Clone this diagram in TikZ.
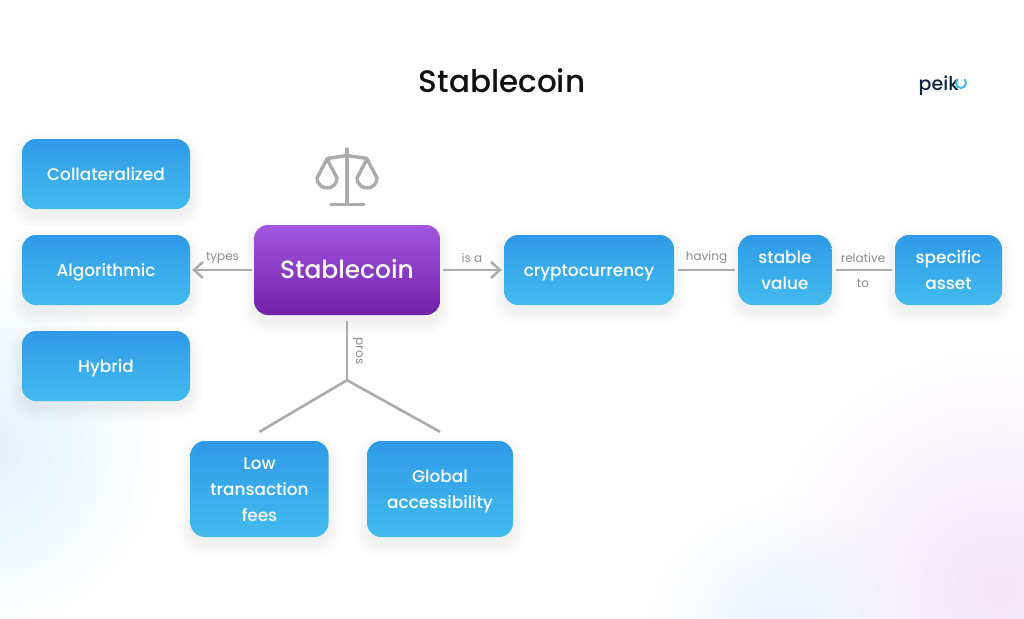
\documentclass[tikz,border=0pt]{standalone}
\usepackage{fontspec}
\setmainfont{Poppins}[UprightFont=* Medium,BoldFont=* SemiBold]
\newfontfamily\lblfont{Poppins}
\usetikzlibrary{arrows.meta,calc,fadings}
\definecolor{blueT}{HTML}{2F9AE8}
\definecolor{blueB}{HTML}{43BBEE}
\definecolor{purT}{HTML}{A356DF}
\definecolor{purB}{HTML}{7121A8}
\definecolor{conn}{HTML}{ABABAB}
\definecolor{lab}{HTML}{8C8C8C}
\definecolor{navy}{HTML}{12263F}
\definecolor{ink}{HTML}{111111}
\definecolor{glowL}{HTML}{DFF1FA}
\definecolor{glowR}{HTML}{F1E4F7}
\definecolor{glowM}{HTML}{E9F2FB}
\tikzfading[name=glow,inner color=transparent!0,outer color=transparent!100]
\newcommand{\tline}{\rule[-0.3\baselineskip]{0pt}{\dimexpr\baselineskip+2.6pt\relax}}
\newcommand{\bline}{\strut}
\tikzset{
  bluebox/.style={rounded corners=14pt,top color=blueT,bottom color=blueB,draw=none,text=white,
    inner sep=0pt,align=center,font=\fontsize{16.9}{25.6}\selectfont},
  purplebox/.style={rounded corners=14pt,top color=purT,bottom color=purB,draw=none,text=white,
    inner sep=0pt,align=center,font=\fontsize{24.9}{30}\selectfont},
  link/.style={draw=conn,line width=2.6pt},
  arrowlink/.style={link,-{Straight Barb[length=9pt,width=16pt,line width=2.4pt]}},
  lbl/.style={text=lab,inner sep=0pt,font=\lblfont\fontsize{12}{14}\selectfont},
  icon/.style={draw=conn,line width=3.4pt,line cap=round,line join=round},
}
\newcommand{\softshadow}[4]{%
  \foreach \k in {0,...,13}{
    \pgfmathsetmacro{\rr}{14+\k}
    \fill[black,opacity=0.0045,rounded corners=\rr pt]
      ({#1-#3/2-\k},{#2-#4/2-\k+7}) rectangle ({#1+#3/2+\k},{#2+#4/2+\k+7});
  }}
\begin{document}
\begin{tikzpicture}[x=1pt,y=-1pt]
\useasboundingbox (0,0) rectangle (1024,618);
\fill[white] (0,0) rectangle (1024,618);
\begin{scope}
  \clip (0,0) rectangle (1024,618);
  \fill[glowL,path fading=glow] (-20,450) circle (180);
  \fill[glowR,path fading=glow] (1000,590) circle (240);
  \fill[glowM,path fading=glow] (780,630) circle (130);
\end{scope}

\softshadow{106}{174}{168}{70}
\softshadow{106}{270}{168}{70}
\softshadow{106}{366}{168}{70}
\softshadow{347}{270}{186}{90}
\softshadow{589}{270}{170}{70}
\softshadow{785}{270}{93}{70}
\softshadow{948.5}{270}{107}{70}
\softshadow{259.5}{489}{138}{96}
\softshadow{440}{489}{146}{96}

\node[font=\fontsize{31}{36}\selectfont\mdseries,text=ink,inner sep=0pt] (title) at (502,81) {Stablecoin};

\node[inner sep=0pt,text=navy,font=\fontsize{19}{24}\selectfont,anchor=base west] (peiko) at (918.5,90) {peik};
\draw[draw=blueB,line width=2pt,line cap=round] (957.5,79.5) arc[start angle=225,end angle=-45,radius=5];

\node[bluebox,minimum width=168pt,minimum height=70pt] (coll) at (106,174) {\tline Collateralized};
\node[bluebox,minimum width=168pt,minimum height=70pt] (algo) at (106,270) {\tline Algorithmic};
\node[bluebox,minimum width=168pt,minimum height=70pt] (hyb) at (106,366) {\tline Hybrid};
\node[purplebox,minimum width=186pt,minimum height=90pt] (stable) at (347,270) {\rule[-9pt]{0pt}{34pt}Stablecoin};
\node[bluebox,minimum width=170pt,minimum height=70pt] (crypto) at (589,270) {\tline cryptocurrency};
\node[bluebox,minimum width=93pt,minimum height=70pt] (value) at (785,270) {\tline stable\\\bline value};
\node[bluebox,minimum width=107pt,minimum height=70pt] (asset) at (948.5,270) {\tline specific\\\bline asset};
\node[bluebox,minimum width=138pt,minimum height=96pt] (low) at (259.5,489) {\tline Low\\\bline transaction\\\bline fees};
\node[bluebox,minimum width=146pt,minimum height=96pt] (global) at (440,489) {\tline Global\\\bline accessibility};

\draw[arrowlink,shorten <=2pt,shorten >=2pt] (stable.west) -- (algo.east);
\draw[arrowlink,shorten <=3pt,shorten >=2pt] (stable.east) -- (crypto.west);
\draw[link,shorten <=4pt,shorten >=3pt] (crypto.east) -- (value.west);
\draw[link,shorten <=4pt,shorten >=3pt] (value.east) -- (asset.west);

\coordinate (fork) at ($(stable.south)+(0,65)$);
\coordinate (lowend) at ($(low.north)+(0,-9)$);
\coordinate (globalend) at ($(global.north)+(0,-9)$);
\draw[link,shorten <=6pt] (stable.south) -- (fork);
\draw[link,line join=miter] (lowend) -- (fork) -- (globalend);

\node[lbl] (ltypes) at (222.5,257.5) {types};
\node[lbl] (lisa) at (472,257.5) {is a};
\node[lbl] (lhaving) at (706.5,257.5) {having};
\node[lbl] (lrel) at (863,257.5) {relative};
\node[lbl] (lto) at (863,283) {to};
\node[lbl,rotate=-90] (lpros) at (358,351) {pros};

% balance icon
\draw[icon] (347,149) -- (347,204);
\draw[icon] (331,204.5) -- (364,204.5);
\draw[icon] (327,158.5) -- (347,155.5) -- (367,158.5);
\draw[icon] (327,159) -- (317,178) arc[start angle=180,end angle=0,radius=10] -- cycle;
\draw[icon] (367,159) -- (357,178) arc[start angle=180,end angle=0,radius=10] -- cycle;
\end{tikzpicture}
\end{document}
